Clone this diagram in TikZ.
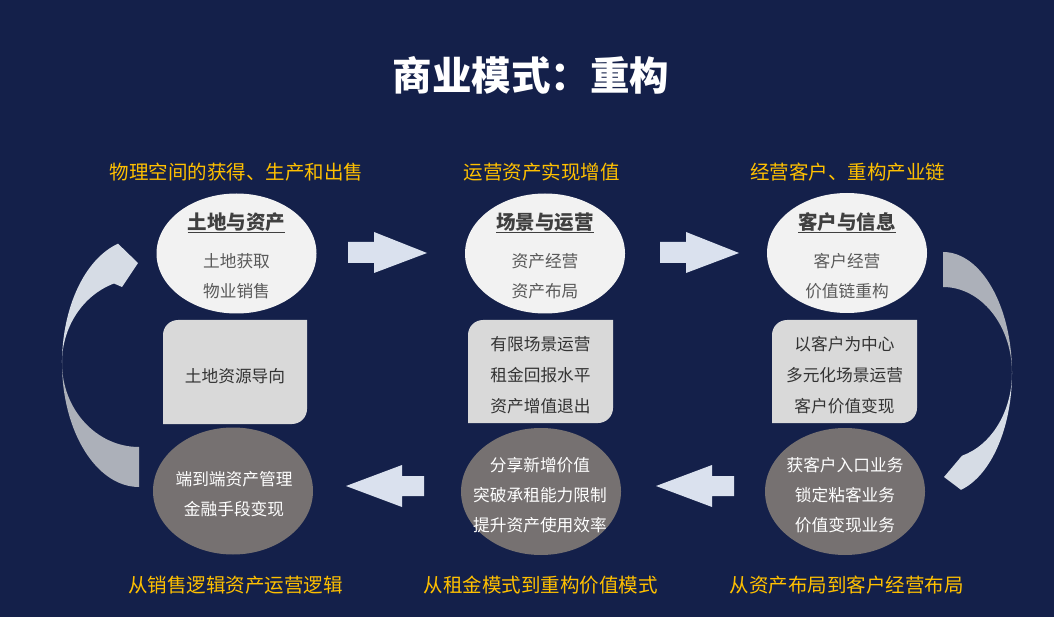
\documentclass[tikz,border=0pt]{standalone}
\usepackage{fontspec}
\setmainfont{Noto Sans CJK SC}
\usetikzlibrary{shapes.geometric}
\definecolor{bg}{HTML}{14204A}
\definecolor{ylw}{HTML}{FFC000}
\definecolor{topfill}{HTML}{F2F2F2}
\definecolor{botfill}{HTML}{767171}
\definecolor{cardfill}{HTML}{D9D9D9}
\definecolor{ttl}{HTML}{404040}
\definecolor{subgray}{HTML}{595959}
\definecolor{cardtxt}{HTML}{333333}
\definecolor{arrowfill}{HTML}{DAE1EE}
\definecolor{curvelight}{HTML}{D6DCE5}
\definecolor{curvegray}{HTML}{ACB0B9}
\newcommand{\drawcard}[4]{%
  \fill[cardfill] (#1,#2+15) arc[start angle=180,end angle=270,radius=15] -- (#3,#2) -- (#3,#4-15) arc[start angle=0,end angle=90,radius=15] -- (#1,#4) -- cycle;}
\begin{document}
\begin{tikzpicture}[x=1pt,y=-1pt,
  lbl/.style={text=ylw,font=\fontsize{19.5}{22}\selectfont,inner sep=0pt},
  topell/.style={ellipse,fill=topfill,minimum width=160pt,minimum height=120pt,inner sep=0pt},
  botell/.style={ellipse,fill=botfill,minimum width=160pt,minimum height=127pt,inner sep=0pt},
  ettl/.style={font=\bfseries\fontsize{19.5}{22}\selectfont,text=ttl,inner sep=0pt},
  esub/.style={font=\fontsize{16.7}{30}\selectfont,text=subgray,align=center,inner sep=0pt},
  ctxt/.style={font=\fontsize{16.7}{31}\selectfont,text=cardtxt,align=center,inner sep=0pt},
  btxt/.style={font=\fontsize{16.7}{30}\selectfont,text=white,align=center,inner sep=0pt},
  blockarrow/.style={fill=arrowfill}]
\useasboundingbox (0,0) rectangle (1054,617);
\fill[bg] (0,0) rectangle (1054,617);

% title
\node[font=\bfseries\fontsize{39.5}{44}\selectfont,text=white,inner sep=0pt] (title) at (531,75) {商业模式：重构};

% top labels
\node[lbl] (l1) at (236.5,172) {物理空间的获得、生产和出售};
\node[lbl] (l2) at (541.5,172) {运营资产实现增值};
\node[lbl] (l3) at (847.5,172) {经营客户、重构产业链};

% bottom labels
\node[lbl] (b1) at (235.5,585) {从销售逻辑资产运营逻辑};
\node[lbl] (b2) at (540.5,585) {从租金模式到重构价值模式};
\node[lbl] (b3) at (846.5,585) {从资产布局到客户经营布局};

% curved arrows
\fill[curvegray] (62,363) arc[start angle=180,end angle=90,x radius=77,y radius=124] -- (139,447) arc[start angle=90,end angle=180,x radius=77,y radius=84] -- cycle;
\fill[curvelight] (62,363) arc[start angle=180,end angle=254.2,x radius=77,y radius=124] -- (138,263) -- (122,287) -- (114,283.5) arc[start angle=251.1,end angle=180,x radius=77,y radius=84] -- cycle;
\fill[curvegray] (943,252) arc[start angle=270,end angle=360,x radius=69,y radius=121] arc[start angle=0,end angle=-90,x radius=69,y radius=86] -- cycle;
\fill[curvelight] (1012,373) arc[start angle=0,end angle=74.9,x radius=69,y radius=121] -- (944,477) -- (962,455.7) arc[start angle=74,end angle=0,x radius=69,y radius=86] -- cycle;

% straight arrows
\fill[blockarrow] (348,242) -- (374,242) -- (374,232) -- (427,253) -- (374,273) -- (374,263) -- (348,263) -- cycle;
\fill[blockarrow,xshift=312pt] (348,242) -- (374,242) -- (374,232) -- (427,253) -- (374,273) -- (374,263) -- (348,263) -- cycle;
\fill[blockarrow] (424,476) -- (402,476) -- (402,465) -- (346,486) -- (402,507) -- (402,496) -- (424,496) -- cycle;
\fill[blockarrow,xshift=310pt] (424,476) -- (402,476) -- (402,465) -- (346,486) -- (402,507) -- (402,496) -- (424,496) -- cycle;

% top ellipses
\node[topell] (e1) at (236.5,253.5) {};
\node[topell] (e2) at (545,253.5) {};
\node[topell] (e3) at (847,253) {};
\node[ettl] (t1) at (236.5,222) {土地与资产};
\node[ettl] (t2) at (545,222) {场景与运营};
\node[ettl] (t3) at (847,222) {客户与信息};
\draw[ttl,line width=1.1pt] ([yshift=-1pt]t1.south west) -- ([yshift=-1pt]t1.south east);
\draw[ttl,line width=1.1pt] ([yshift=-1pt]t2.south west) -- ([yshift=-1pt]t2.south east);
\draw[ttl,line width=1.1pt] ([yshift=-1pt]t3.south west) -- ([yshift=-1pt]t3.south east);
\node[esub] (s1) at (236.5,276) {土地获取\\物业销售};
\node[esub] (s2) at (545,276) {资产经营\\资产布局};
\node[esub] (s3) at (847,276) {客户经营\\价值链重构};

% cards
\drawcard{163}{320}{307}{424}
\drawcard{468}{320}{613}{423}
\drawcard{772}{320}{917}{423}
\node[ctxt] (c1) at (235,376) {土地资源导向};
\node[ctxt] (c2) at (540.5,375) {有限场景运营\\租金回报水平\\资产增值退出};
\node[ctxt] (c3) at (844.5,375) {以客户为中心\\多元化场景运营\\客户价值变现};

% bottom ellipses
\node[botell] (g1) at (233,491) {};
\node[botell] (g2) at (541,491.5) {};
\node[botell] (g3) at (845,491.5) {};
\node[btxt] (x1) at (234,494) {端到端资产管理\\金融手段变现};
\node[btxt] (x2) at (540,495.5) {分享新增价值\\突破承租能力限制\\提升资产使用效率};
\node[btxt] (x3) at (845,495.5) {获客户入口业务\\锁定粘客业务\\价值变现业务};
\end{tikzpicture}
\end{document}
